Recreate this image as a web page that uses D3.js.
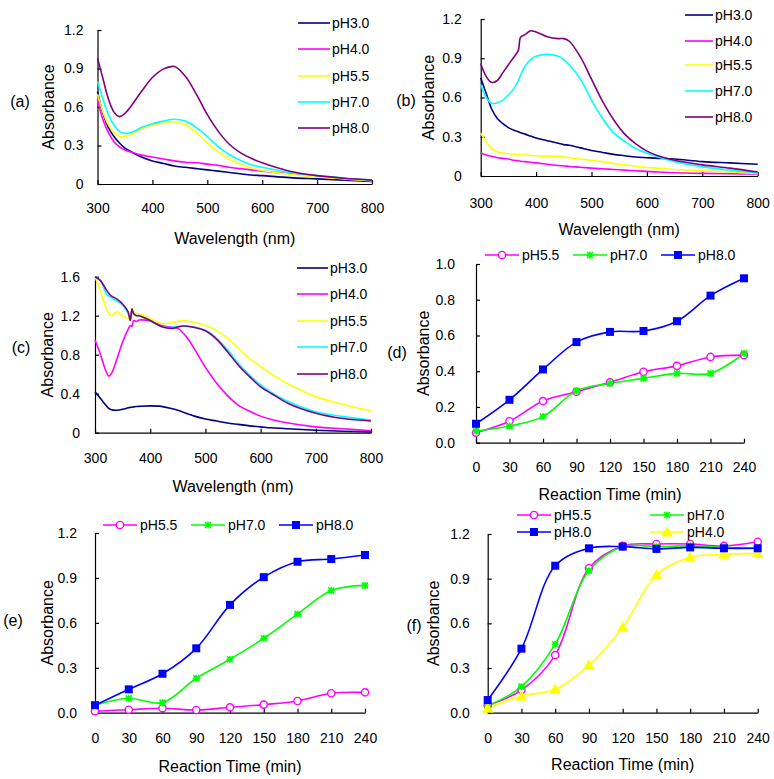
<!DOCTYPE html>
<html><head><meta charset="utf-8">
<script src="https://cdn.jsdelivr.net/npm/d3@7"></script>
<style>
body{margin:0;background:#fff;}
text{font-family:"Liberation Sans",Arial,sans-serif;}
</style></head>
<body><svg id="c" width="774" height="779"></svg>
<script>
// ---------- DATA ----------
const specSeries = ["pH3.0","pH4.0","pH5.5","pH7.0","pH8.0"];
const specColors = ["#000080","#FF00FF","#FFFF00","#00FFFF","#800080"];

const wlA = [300,310,320,330,340,350,360,380,400,420,440,460,480,500,520,540,560,580,600,650,700,750,800];
const a_pH30 = [0.72,0.55,0.44,0.37,0.32,0.28,0.255,0.21,0.18,0.16,0.14,0.13,0.12,0.11,0.10,0.09,0.08,0.07,0.065,0.05,0.04,0.03,0.02];
const a_pH40 = [0.66,0.50,0.40,0.33,0.29,0.265,0.25,0.225,0.21,0.195,0.18,0.17,0.165,0.155,0.145,0.13,0.12,0.11,0.10,0.08,0.06,0.04,0.025];
const a_pH55 = [0.70,0.56,0.46,0.40,0.37,0.37,0.385,0.43,0.46,0.475,0.485,0.46,0.40,0.32,0.25,0.195,0.155,0.125,0.105,0.075,0.055,0.04,0.025];
const a_pH70 = [0.80,0.66,0.54,0.46,0.41,0.395,0.40,0.44,0.47,0.49,0.505,0.49,0.44,0.37,0.29,0.23,0.185,0.15,0.13,0.09,0.065,0.045,0.03];
const a_pH80 = [0.98,0.82,0.66,0.56,0.525,0.55,0.60,0.72,0.83,0.895,0.915,0.84,0.70,0.54,0.41,0.31,0.245,0.20,0.165,0.10,0.065,0.045,0.03];

const wlB = [300,310,320,330,340,350,360,368,372,380,390,400,420,440,450,460,480,500,520,540,560,580,600,620,650,700,750,800];
const b_pH30 = [0.75,0.63,0.51,0.44,0.40,0.37,0.35,0.338,0.33,0.32,0.305,0.29,0.27,0.25,0.24,0.235,0.215,0.195,0.18,0.165,0.155,0.145,0.14,0.135,0.13,0.11,0.10,0.09];
const b_pH40 = [0.175,0.16,0.15,0.14,0.135,0.13,0.12,0.116,0.113,0.11,0.105,0.10,0.09,0.08,0.077,0.073,0.067,0.06,0.055,0.05,0.045,0.04,0.035,0.03,0.025,0.02,0.017,0.015];
const b_pH55 = [0.33,0.26,0.21,0.185,0.175,0.17,0.165,0.163,0.162,0.16,0.158,0.155,0.152,0.15,0.148,0.14,0.13,0.12,0.11,0.095,0.085,0.075,0.065,0.06,0.05,0.04,0.03,0.02];
const b_pH70 = [0.70,0.60,0.555,0.56,0.58,0.62,0.67,0.73,0.77,0.84,0.89,0.915,0.93,0.915,0.89,0.85,0.74,0.58,0.44,0.33,0.265,0.21,0.175,0.145,0.11,0.07,0.045,0.025];
const b_pH80 = [0.86,0.76,0.715,0.73,0.79,0.85,0.91,0.96,1.06,1.08,1.11,1.10,1.065,1.05,1.05,1.03,0.91,0.74,0.57,0.43,0.32,0.245,0.19,0.155,0.12,0.085,0.06,0.03];

const wlC = [300,310,320,325,330,340,350,360,364,367,370,375,380,400,420,440,450,460,470,480,500,520,540,560,580,600,620,650,700,750,800];
const c_pH30 = [0.42,0.35,0.28,0.25,0.235,0.23,0.24,0.255,0.26,0.262,0.265,0.268,0.27,0.275,0.27,0.245,0.23,0.21,0.19,0.17,0.14,0.12,0.10,0.085,0.07,0.06,0.05,0.04,0.025,0.015,0.008];
const c_pH40 = [0.95,0.80,0.63,0.58,0.61,0.76,0.93,1.06,1.10,1.09,1.15,1.14,1.155,1.145,1.10,1.08,1.07,1.02,0.95,0.86,0.67,0.51,0.38,0.28,0.22,0.17,0.135,0.10,0.06,0.04,0.02];
const c_pH55 = [1.6,1.45,1.28,1.22,1.20,1.24,1.20,1.17,1.17,1.27,1.24,1.22,1.22,1.17,1.12,1.13,1.14,1.15,1.14,1.13,1.10,1.05,0.97,0.865,0.76,0.68,0.60,0.50,0.37,0.29,0.225];
const c_pH70 = [1.6,1.56,1.43,1.40,1.38,1.35,1.31,1.22,1.16,1.26,1.22,1.20,1.20,1.15,1.09,1.08,1.09,1.095,1.09,1.085,1.05,0.97,0.85,0.71,0.59,0.49,0.41,0.32,0.215,0.165,0.13];
const c_pH80 = [1.6,1.56,1.47,1.43,1.40,1.37,1.32,1.24,1.15,1.27,1.22,1.20,1.20,1.15,1.09,1.07,1.085,1.095,1.09,1.08,1.045,0.96,0.83,0.69,0.575,0.47,0.40,0.30,0.20,0.145,0.12];

const times = [0,30,60,90,120,150,180,210,240];
const d_pH55 = [0.056,0.12,0.233,0.285,0.338,0.397,0.43,0.48,0.49];
const d_pH70 = [0.065,0.093,0.146,0.29,0.332,0.36,0.388,0.388,0.50];
const d_pH80 = [0.106,0.24,0.41,0.563,0.62,0.625,0.68,0.823,0.92];
const e_pH55 = [0.01,0.02,0.03,0.018,0.036,0.054,0.078,0.13,0.136];
const e_pH70 = [0.05,0.096,0.067,0.23,0.357,0.497,0.658,0.816,0.85];
const e_pH80 = [0.05,0.156,0.26,0.43,0.72,0.905,1.008,1.026,1.053];
const f_pH55 = [0.05,0.152,0.387,0.97,1.12,1.133,1.133,1.12,1.148];
const f_pH70 = [0.045,0.175,0.46,0.954,1.115,1.115,1.12,1.11,1.104];
const f_pH80 = [0.085,0.43,0.987,1.104,1.115,1.10,1.11,1.104,1.104];
const f_pH40 = [0.03,0.112,0.157,0.32,0.573,0.925,1.043,1.063,1.07];

const wlTicks = [300,400,500,600,700,800];
const timeTicks = [0,30,60,90,120,150,180,210,240];
const yTicksA = [0,0.3,0.6,0.9,1.2], yLabelsA = ["0","0.3","0.6","0.9","1.2"];
const yTicksC = [0,0.4,0.8,1.2,1.6], yLabelsC = ["0","0.4","0.8","1.2","1.6"];
const yTicksD = [0,0.2,0.4,0.6,0.8,1.0], yLabelsD = ["0.0","0.2","0.4","0.6","0.8","1.0"];
const yTicksE = [0,0.3,0.6,0.9,1.2], yLabelsE = ["0.0","0.3","0.6","0.9","1.2"];
const panelLabels = ["(a)","(b)","(c)","(d)","(e)","(f)"];
const xTitleSpec = "Wavelength (nm)", xTitleTime = "Reaction Time (min)", yTitle = "Absorbance";

// ---------- DRAW ----------
const svg = d3.select("#c");
const FS = 14, TFS = 16;

function axes(p){
  const x = d3.scaleLinear().domain(p.xd).range([p.x0,p.x1]);
  const y = d3.scaleLinear().domain(p.yd).range([p.yb,p.yt]);
  const gx = svg.append("g").attr("transform",`translate(0,${p.yb})`)
    .call(d3.axisBottom(x).tickValues(p.xt).tickSizeInner(-4).tickSizeOuter(0).tickPadding(p.xpad).tickFormat(d3.format("d")));
  const gy = svg.append("g").attr("transform",`translate(${p.x0},0)`)
    .call(d3.axisLeft(y).tickValues(p.yt2).tickSizeInner(-4).tickSizeOuter(0).tickPadding(p.ypad).tickFormat((d,i)=>p.yl[i]));
  [gx,gy].forEach(g=>{g.selectAll("text").attr("font-size",FS).attr("fill","#000").attr("font-family","Liberation Sans, Arial");
    g.selectAll("path,line").attr("stroke","#000").attr("stroke-width",1.2);});
  svg.append("text").attr("x",(p.x0+p.x1)/2+p.xtOff).attr("y",p.xTitleY).attr("text-anchor","middle").attr("font-size",TFS).text(p.xTitle);
  svg.append("text").attr("transform",`translate(${p.yTitleX},${(p.yb+p.yt)/2}) rotate(-90)`).attr("text-anchor","middle").attr("dy","0.35em").attr("font-size",TFS).text(yTitle);
  svg.append("text").attr("x",p.lab[0]).attr("y",p.lab[1]).attr("dy","0.35em").attr("text-anchor","middle").attr("font-size",TFS).text(p.label);
  return {x,y};
}

function spectral(p, wl, seriesVals){
  const {x,y} = axes(p);
  const line = d3.line().x(d=>x(d[0])).y(d=>y(d[1])).curve(d3.curveCatmullRom.alpha(0.5));
  seriesVals.forEach((vals,i)=>{
    svg.append("path").attr("d",line(wl.map((w,j)=>[w,vals[j]]))).attr("fill","none")
      .attr("stroke",specColors[i]).attr("stroke-width",1.6);
  });
  specSeries.forEach((s,i)=>{
    const ly = p.legY[i];
    svg.append("line").attr("x1",p.legX[0]).attr("x2",p.legX[1]).attr("y1",ly).attr("y2",ly).attr("stroke",specColors[i]).attr("stroke-width",1.6);
    svg.append("text").attr("x",p.legX[1]+2).attr("y",ly).attr("dy","0.35em").attr("font-size",FS).text(s);
  });
}

const markerDefs = {
  "pH5.5":{color:"#FF00FF", sym:"circle"},
  "pH7.0":{color:"#00FF00", sym:"asterisk"},
  "pH8.0":{color:"#0000FF", sym:"square"},
  "pH4.0":{color:"#FFFF00", sym:"triangle"}
};
function marker(g, cx, cy, name){
  const m = markerDefs[name];
  if(m.sym==="circle"){
    g.append("circle").attr("cx",cx).attr("cy",cy).attr("r",3.6).attr("fill","#fff").attr("stroke",m.color).attr("stroke-width",1.4);
  } else if(m.sym==="square"){
    g.append("rect").attr("x",cx-4).attr("y",cy-4).attr("width",8).attr("height",8).attr("fill",m.color);
  } else if(m.sym==="triangle"){
    g.append("path").attr("transform",`translate(${cx},${cy+1})`).attr("d",d3.symbol(d3.symbolTriangle,60)()).attr("fill",m.color);
  } else {
    g.append("path").attr("transform",`translate(${cx},${cy})`).attr("d","M-3,-3L3,3M-3,3L3,-3M0,-3.5L0,3.5M-3.5,0L3.5,0").attr("stroke",m.color).attr("stroke-width",1.6).attr("fill","none");
  }
}

function timePanel(p, names, seriesVals, legend){
  const {x,y} = axes(p);
  const line = d3.line().x(d=>x(d[0])).y(d=>y(d[1])).curve(d3.curveCatmullRom.alpha(0.5));
  names.forEach((n,i)=>{
    const col = markerDefs[n].color;
    const pts = times.map((t,j)=>[t,seriesVals[i][j]]);
    svg.append("path").attr("d",line(pts)).attr("fill","none").attr("stroke",col).attr("stroke-width",1.6);
  });
  names.forEach((n,i)=>{
    const g = svg.append("g");
    times.forEach((t,j)=>marker(g, x(t), y(seriesVals[i][j]), n));
  });
  legend.forEach(L=>{
    const col = markerDefs[L.n].color;
    svg.append("line").attr("x1",L.x).attr("x2",L.x+34).attr("y1",L.y).attr("y2",L.y).attr("stroke",col).attr("stroke-width",1.6);
    marker(svg, L.x+17, L.y, L.n);
    svg.append("text").attr("x",L.x+37).attr("y",L.y).attr("dy","0.35em").attr("font-size",FS).text(L.n);
  });
}

spectral({xd:[300,800],yd:[0,1.2],x0:97.5,x1:372,yb:184,yt:30,xt:wlTicks,yt2:yTicksA,yl:yLabelsA,xpad:19,ypad:14,
  xTitle:xTitleSpec,xTitleY:244,xtOff:0,yTitleX:48,lab:[20,101],label:panelLabels[0],
  legX:[298,330],legY:[23,49,76,102,128]}, wlA, [a_pH30,a_pH40,a_pH55,a_pH70,a_pH80]);

spectral({xd:[300,800],yd:[0,1.2],x0:480.7,x1:757.7,yb:176,yt:19,xt:wlTicks,yt2:yTicksA,yl:yLabelsA,xpad:22,ypad:19,
  xTitle:xTitleSpec,xTitleY:235,xtOff:0,yTitleX:428,lab:[406,100],label:panelLabels[1],
  legX:[685,713],legY:[15,41,65,91,117]}, wlB, [b_pH30,b_pH40,b_pH55,b_pH70,b_pH80]);

spectral({xd:[300,800],yd:[0,1.6],x0:95,x1:371,yb:432.7,yt:276.7,xt:wlTicks,yt2:yTicksC,yl:yLabelsC,xpad:20,ypad:15,
  xTitle:xTitleSpec,xTitleY:492,xtOff:0,yTitleX:47,lab:[21,347],label:panelLabels[2],
  legX:[297,328],legY:[268,294,321,347,374]}, wlC, [c_pH30,c_pH40,c_pH55,c_pH70,c_pH80]);

timePanel({xd:[0,240],yd:[0,1.0],x0:476,x1:744,yb:442.7,yt:264,xt:timeTicks,yt2:yTicksD,yl:yLabelsD,xpad:19,ypad:21,
  xTitle:xTitleTime,xTitleY:500,xtOff:0,yTitleX:423,lab:[397,352],label:panelLabels[3]},
  ["pH5.5","pH7.0","pH8.0"],[d_pH55,d_pH70,d_pH80],
  [{n:"pH5.5",x:485,y:255},{n:"pH7.0",x:573,y:255},{n:"pH8.0",x:661,y:255}]);

timePanel({xd:[0,240],yd:[0,1.2],x0:95,x1:365,yb:712.7,yt:533,xt:timeTicks,yt2:yTicksE,yl:yLabelsE,xpad:20,ypad:18,
  xTitle:xTitleTime,xTitleY:772,xtOff:0,yTitleX:47,lab:[13,620],label:panelLabels[4]},
  ["pH5.5","pH7.0","pH8.0"],[e_pH55,e_pH70,e_pH80],
  [{n:"pH5.5",x:103,y:525},{n:"pH7.0",x:191,y:525},{n:"pH8.0",x:279,y:525}]);

timePanel({xd:[0,240],yd:[0,1.2],x0:487.7,x1:757.7,yb:712.7,yt:534,xt:timeTicks,yt2:yTicksE,yl:yLabelsE,xpad:20,ypad:18,
  xTitle:xTitleTime,xTitleY:770,xtOff:0,yTitleX:433,lab:[414,625],label:panelLabels[5]},
  ["pH5.5","pH7.0","pH4.0","pH8.0"],[f_pH55,f_pH70,f_pH40,f_pH80],
  [{n:"pH5.5",x:517,y:515},{n:"pH7.0",x:650,y:515},{n:"pH8.0",x:517,y:532},{n:"pH4.0",x:650,y:532}]);
</script></body></html>
